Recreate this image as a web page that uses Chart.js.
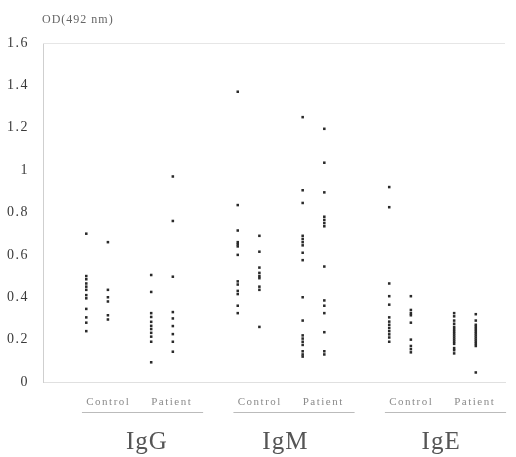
<!DOCTYPE html>
<html>
<head>
<meta charset="utf-8">
<script src="https://cdn.jsdelivr.net/npm/chart.js@4.4.1/dist/chart.umd.min.js"></script>
<style>
  html, body { margin: 0; padding: 0; background: #fff; }
  #wrap { width: 516px; height: 457px; }
</style>
</head>
<body>
<div id="wrap"><canvas id="c" width="516" height="457"></canvas></div>
<script>
// ---- data ----
const groups = ['IgG', 'IgM', 'IgE'];
const categories = ['Control', 'Patient'];
const yTitle = 'OD(492 nm)';

// each category is shown as two columns of dots
const IgG_Control_1 = [0.70, 0.50, 0.485, 0.465, 0.45, 0.435, 0.41, 0.395, 0.345, 0.305, 0.28, 0.24];
const IgG_Control_2 = [0.66, 0.435, 0.40, 0.38, 0.315, 0.295];
const IgG_Patient_1 = [0.505, 0.425, 0.325, 0.307, 0.284, 0.265, 0.25, 0.232, 0.214, 0.19, 0.093];
const IgG_Patient_2 = [0.97, 0.76, 0.497, 0.33, 0.30, 0.264, 0.226, 0.19, 0.143];

const IgM_Control_1 = [1.37, 0.835, 0.715, 0.66, 0.65, 0.64, 0.60, 0.475, 0.46, 0.43, 0.415, 0.36, 0.325];
const IgM_Control_2 = [0.69, 0.615, 0.54, 0.515, 0.50, 0.49, 0.45, 0.435, 0.26];
const IgM_Patient_1 = [1.25, 0.905, 0.845, 0.69, 0.675, 0.66, 0.645, 0.61, 0.575, 0.40, 0.29, 0.22, 0.205, 0.19, 0.175, 0.145, 0.13, 0.12];
const IgM_Patient_2 = [1.195, 1.035, 0.895, 0.78, 0.765, 0.75, 0.735, 0.545, 0.385, 0.36, 0.325, 0.235, 0.145, 0.13];

const IgE_Control_1 = [0.92, 0.825, 0.465, 0.405, 0.365, 0.305, 0.285, 0.27, 0.255, 0.24, 0.225, 0.21, 0.19];
const IgE_Control_2 = [0.405, 0.34, 0.325, 0.315, 0.28, 0.20, 0.17, 0.155, 0.14];
const IgE_Patient_1 = [0.325, 0.31, 0.29, 0.275, 0.26, 0.25, 0.24, 0.23, 0.22, 0.21, 0.20, 0.19, 0.18, 0.16, 0.15, 0.135];
const IgE_Patient_2 = [0.32, 0.29, 0.27, 0.26, 0.25, 0.24, 0.23, 0.22, 0.21, 0.20, 0.19, 0.18, 0.17, 0.045];

const columns = [
  [[IgG_Control_1, IgG_Control_2], [IgG_Patient_1, IgG_Patient_2]],
  [[IgM_Control_1, IgM_Control_2], [IgM_Patient_1, IgM_Patient_2]],
  [[IgE_Control_1, IgE_Control_2], [IgE_Patient_1, IgE_Patient_2]]
];

const yTicks = [0, 0.2, 0.4, 0.6, 0.8, 1, 1.2, 1.4, 1.6];

// ---- layout in x units: group step 7, category step 3, column step 1 ----
const GROUP_STEP = 7, CAT_STEP = 3, COL_STEP = 1;
const catPos = (g, c) => g * GROUP_STEP + c * CAT_STEP;
const groupLabelOffset = [2.8, 2.2, 2.4];

const datasets = [];
columns.forEach((grp, g) => grp.forEach((cat, c) => cat.forEach((vals, s) => {
  datasets.push({
    label: groups[g] + ' ' + categories[c] + ' ' + (s + 1),
    data: vals.map(v => ({ x: catPos(g, c) + s * COL_STEP, y: v })),
    pointStyle: 'rect',
    pointRadius: 1.8,
    pointBorderWidth: 0,
    backgroundColor: '#2a2a2a',
    borderColor: '#2a2a2a'
  });
})));

const catTickValues = [];
const catTickLabels = [];
groups.forEach((gname, g) => categories.forEach((cname, c) => {
  catTickValues.push(catPos(g, c));
  catTickLabels.push(cname);
}));

const SERIF = "'Liberation Serif', 'DejaVu Serif', serif";

const decorPlugin = {
  id: 'decor',
  beforeDraw(chart) {
    chart.ctx.letterSpacing = '1.5px';
  },
  afterDraw(chart) {
    const { ctx, chartArea, scales } = chart;
    const xs = scales.x;
    ctx.save();
    // top frame line
    ctx.strokeStyle = '#e6e6e6';
    ctx.lineWidth = 1;
    ctx.beginPath();
    ctx.moveTo(chartArea.left, chartArea.top + 0.5);
    ctx.lineTo(chartArea.right, chartArea.top + 0.5);
    ctx.stroke();

    // y axis title
    ctx.fillStyle = '#666';
    ctx.font = '12px ' + SERIF;
    ctx.textAlign = 'left';
    ctx.textBaseline = 'middle';
    ctx.letterSpacing = '1px';
    ctx.fillText(yTitle, chartArea.left - 1, 20);

    // group underlines and names
    groups.forEach((gname, g) => {
      const x0 = xs.getPixelForValue(catPos(g, 0) - 0.2);
      const x1 = xs.getPixelForValue(catPos(g, 1) + 2.4);
      ctx.strokeStyle = '#bbb';
      ctx.lineWidth = 1;
      ctx.beginPath();
      ctx.moveTo(x0, 412.5);
      ctx.lineTo(x1, 412.5);
      ctx.stroke();
      ctx.fillStyle = '#555';
      ctx.font = '25px ' + SERIF;
      ctx.textAlign = 'center';
      ctx.textBaseline = 'middle';
      ctx.letterSpacing = '1px';
      ctx.fillText(gname, xs.getPixelForValue(catPos(g, 0) + groupLabelOffset[g]), 442);
    });
    ctx.restore();
  }
};

new Chart(document.getElementById('c'), {
  type: 'scatter',
  data: { datasets },
  plugins: [decorPlugin],
  options: {
    responsive: false,
    animation: false,
    devicePixelRatio: 1,
    layout: { padding: { top: 43, right: 11, left: 0, bottom: 0 } },
    plugins: {
      legend: { display: false },
      tooltip: { enabled: false },
      title: { display: false }
    },
    scales: {
      x: {
        type: 'linear',
        min: -2,
        max: 19.35,
        grid: { display: false },
        border: { display: true, color: '#e0e0e0', width: 1 },
        afterBuildTicks(scale) {
          scale.ticks = catTickValues.map(v => ({ value: v }));
        },
        afterFit(scale) { scale.height = 75; },
        ticks: {
          align: 'start',
          autoSkip: false,
          maxRotation: 0,
          padding: 6,
          color: '#8a8a8a',
          font: { family: SERIF, size: 11 },
          callback(value) {
            const i = catTickValues.indexOf(value);
            return i >= 0 ? catTickLabels[i] : '';
          }
        }
      },
      y: {
        min: 0,
        max: 1.6,
        grid: { display: false },
        border: { display: true, color: '#cfcfcf', width: 1 },
        afterBuildTicks(scale) {
          scale.ticks = yTicks.map(v => ({ value: v }));
        },
        afterFit(scale) { scale.width = 43; },
        ticks: {
          padding: 6,
          color: '#3a3a3a',
          font: { family: SERIF, size: 14 },
          callback(value) { return String(value); }
        }
      }
    }
  }
});
</script>
</body>
</html>
